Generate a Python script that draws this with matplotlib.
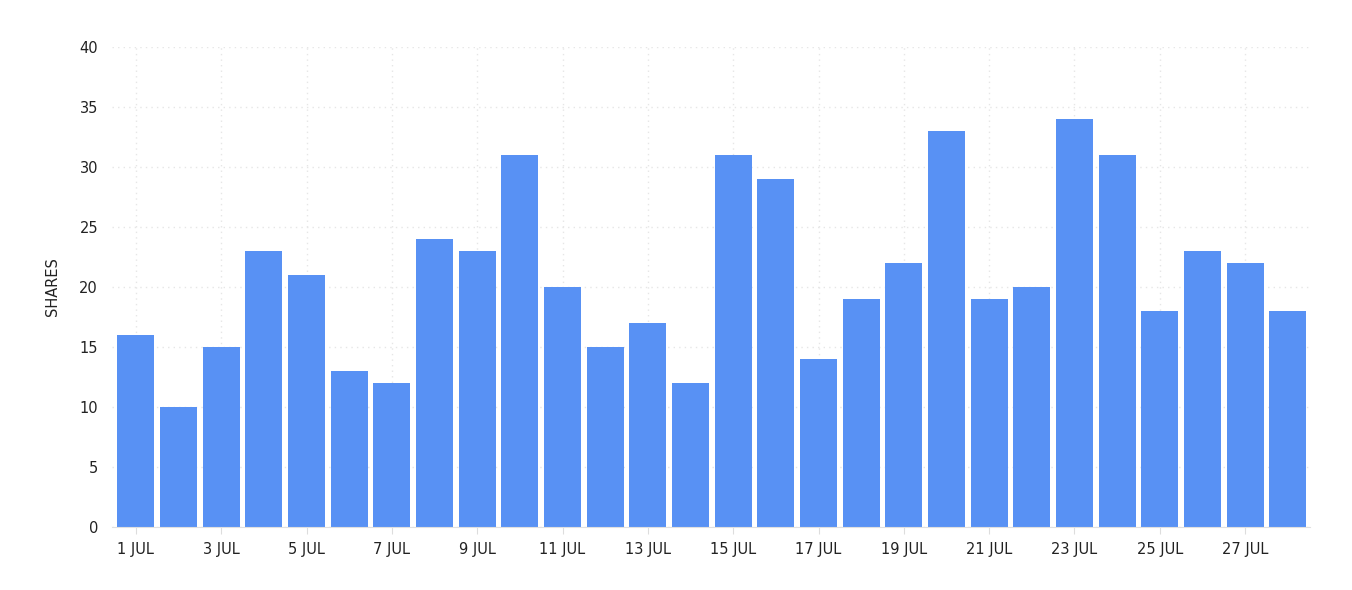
import matplotlib.pyplot as plt
import numpy as np

days = list(range(1, 29))
shares = [16, 10, 15, 23, 21, 13, 12, 24, 23, 31, 20, 15, 17, 12,
          31, 29, 14, 19, 22, 33, 19, 20, 34, 31, 18, 23, 22, 18]
labels = [f"{d} JUL" for d in days]

fig = plt.figure(figsize=(13.52, 5.9), dpi=100)
ax = fig.add_axes([112 / 1352, 63 / 590, 1198 / 1352, 480 / 590])

x = np.arange(len(days))
ax.bar(x, shares, width=0.87, color="#5891f4", zorder=2)

ax.set_xlim(-0.56, 27.52)
ax.set_ylim(0, 40)
ax.set_yticks(range(0, 41, 5))
ax.set_xticks(x[::2])
ax.set_xticklabels(labels[::2])

ax.grid(True, color="#e6e6e6", linestyle=(0, (1, 3)), linewidth=1, zorder=0)
for s in ["top", "right", "left"]:
    ax.spines[s].set_visible(False)
ax.spines["bottom"].set_color("#e0e0e0")
ax.tick_params(axis="y", length=0, pad=10, labelsize=10.5, labelcolor="#222222")
ax.tick_params(axis="x", length=5, color="#dddddd", pad=6, labelsize=10.5, labelcolor="#222222")
ax.set_ylabel("SHARES", fontsize=10.5, color="#222222", labelpad=14)

fig.savefig("out.png", dpi=100)
